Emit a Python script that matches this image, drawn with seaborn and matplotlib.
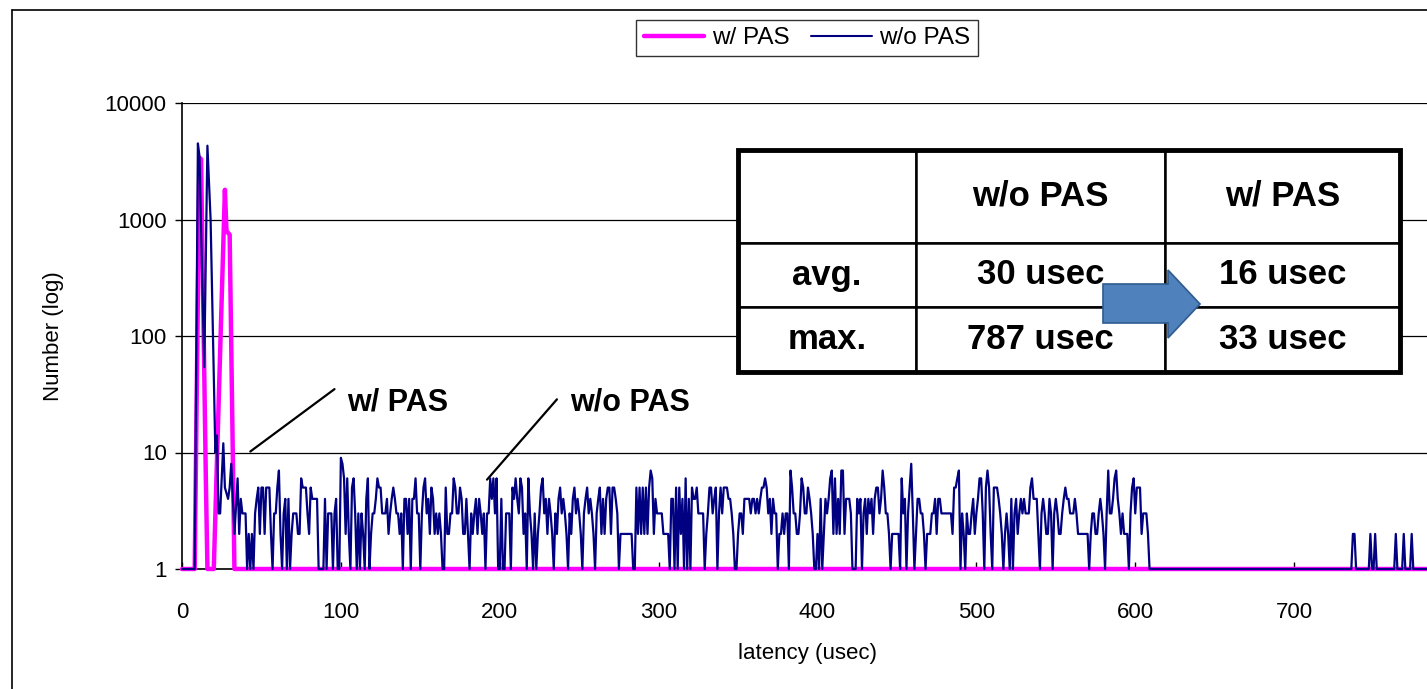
import numpy as np
import pandas as pd
import matplotlib
matplotlib.use("Agg")
import matplotlib.pyplot as plt
import seaborn as sns
from matplotlib.patches import Polygon, Rectangle
from matplotlib.lines import Line2D
from matplotlib.ticker import NullLocator

# ---- data ----
# w/ PAS (magenta): vertices of the two humps, 1 elsewhere
pas_lat = [0, 8, 11, 12, 15, 16, 20, 27, 28, 30, 33, 800]
pas_cnt = [1, 1, 3400, 3300, 6, 1, 1, 1800, 800, 740, 1, 1]

# w/o PAS (navy): peak region
nopas_head_lat = [0, 8, 10, 11, 14, 16, 18, 21, 22, 23, 24, 26, 27, 29, 30, 31, 33, 35, 36, 37, 38, 40]
nopas_head_cnt = [1, 1, 4500, 3500, 54, 4300, 1000, 10, 14, 3, 3, 12, 5, 4, 5, 8, 2, 6, 2, 4, 3, 3]

# w/o PAS noise, one digit per usec starting at 41 usec
noise_start = 41
noise_41_155 = ["1212134525", "5255521335", "7213414123", "3322655532", "5444411114",
                "1333134119", "8626215631", "3132146123", "3465533342", "3454332314",
                "4241446331", "35634"]
noise_156_275 = ["2542323211", "5223365335", "4224213234", "2432313364", "6361141133",
                 "3154643652", "3163213123", "5634243213", "2453432132", "4534321345",
                 "3432134524", "2455255431"]
noise_276_389 = ["2222222211", "5252525257", "6243333222", "2144151524", "1614154453",
                 "3331235534", "5135355544", "3211233244", "4434434345", "5653424331",
                 "2232331753", "3223"]
noise_390_514 = ["6533543211", "2141243467", "2624277244", "4311143413", "4243424553",
                 "4753321222", "2216341358", "3124433212", "2233424433", "3333325567",
                 "1321322342", "3466315752", "15554"]
noise_515_610 = ["3212321413", "4234343335", "6444213432", "2431343223", "4544333432",
                 "2222221233", "2234321373", "3467432322", "2135635552", "333211"]

# w/o PAS tail: isolated counts of 2 up to the 787 usec maximum
nopas_tail_lat = [611, 736, 737, 738, 739, 747, 748, 749, 750, 751, 752, 763, 764, 765,
                  768, 769, 770, 773, 774, 775, 786, 787, 788, 800]
nopas_tail_cnt = [1, 1, 2, 2, 1, 1, 2, 1, 1, 2, 1, 1, 2, 1,
                  1, 2, 1, 1, 2, 1, 1, 2, 1, 1]

table_rows = [["", "w/o PAS", "w/ PAS"],
              ["avg.", "30 usec", "16 usec"],
              ["max.", "787 usec", "33 usec"]]

# ---- build series ----
noise_digits = "".join(noise_41_155 + noise_156_275 + noise_276_389 + noise_390_514 + noise_515_610)
noise_cnt = [int(c) for c in noise_digits]
noise_lat = list(range(noise_start, noise_start + len(noise_cnt)))

df_pas = pd.DataFrame({"latency": pas_lat, "count": pas_cnt})
df_nopas = pd.DataFrame({"latency": nopas_head_lat + noise_lat + nopas_tail_lat,
                         "count": nopas_head_cnt + noise_cnt + nopas_tail_cnt})

sns.set_style("white")
plt.rcParams["font.family"] = ["Liberation Sans", "DejaVu Sans"]
for k in ["text.color", "axes.labelcolor", "xtick.color", "ytick.color"]:
    plt.rcParams[k] = "black"

W, H = 1427, 689
fig = plt.figure(figsize=(W / 100, H / 100), dpi=100)
ax = fig.add_axes([182 / W, 1 - 569 / H, 1271 / W, 466 / H])

sns.lineplot(data=df_pas, x="latency", y="count", color="#FF00FF", lw=3.2,
             estimator=None, sort=False, ax=ax, clip_on=False, zorder=3)
sns.lineplot(data=df_nopas, x="latency", y="count", color="#000080", lw=1.6,
             estimator=None, sort=False, ax=ax, clip_on=False, zorder=4)

ax.set_yscale("log")
ax.set_ylim(1, 10000)
ax.set_xlim(0, 800)
ax.set_yticks([1, 10, 100, 1000, 10000])
ax.set_yticklabels(["1", "10", "100", "1000", "10000"])
ax.yaxis.set_minor_locator(NullLocator())
ax.set_xticks(range(0, 701, 100))
ax.grid(axis="y", color="black", lw=0.9)
ax.set_axisbelow(True)
for s in ["top", "right"]:
    ax.spines[s].set_visible(False)
for s in ["left", "bottom"]:
    ax.spines[s].set_color("black")
    ax.spines[s].set_linewidth(1.2)
ax.tick_params(axis="y", direction="out", length=5, width=1, pad=6, labelsize=16, left=True)
ax.tick_params(axis="x", direction="in", length=5, width=1, pad=24, labelsize=16, bottom=True)

ax.set_xlabel("latency (usec)", fontsize=16)
ax.xaxis.set_label_coords((808 - 182) / 1271, (569 - 643) / 466)
ax.set_ylabel("Number (log)", fontsize=16)
ax.yaxis.set_label_coords((64 - 182) / 1271, 0.5)

# callouts
ax.annotate("", xy=(43, 10.2), xytext=(96, 35),
            arrowprops=dict(arrowstyle="-", lw=1.6, color="black", shrinkA=0, shrinkB=0))
ax.text(104, 27, "w/ PAS", fontsize=22, fontweight="bold", va="center", ha="left")
ax.annotate("", xy=(192, 5.85), xytext=(236, 28.6),
            arrowprops=dict(arrowstyle="-", lw=1.6, color="black", shrinkA=0, shrinkB=0))
ax.text(244, 27, "w/o PAS", fontsize=22, fontweight="bold", va="center", ha="left")

# summary table
tx0, tx1, ty0, ty1 = 738, 1400, 150, 372
tbox = [(tx0 - 182) / 1271, (569 - ty1) / 466, (tx1 - tx0) / 1271, (ty1 - ty0) / 466]
tbl = ax.table(cellText=table_rows, cellLoc="center",
               colWidths=[178 / 662, 249 / 662, 235 / 662], bbox=tbox)
tbl.auto_set_font_size(False)
row_h = [93, 64, 65]
for (r, c), cell in tbl.get_celld().items():
    cell.set_height(row_h[r] / 222)
    cell.set_linewidth(1.8)
    cell.set_edgecolor("black")
    cell.set_facecolor("white")
    cell.get_text().set_fontsize(25)
    cell.get_text().set_fontweight("bold")
    cell.get_text().set_color("black")
tbl.set_zorder(6)
ax.add_patch(Rectangle((tbox[0], tbox[1]), tbox[2], tbox[3], transform=ax.transAxes,
                       fill=False, lw=3.5, edgecolor="black", zorder=7, clip_on=False))

# blue arrow between the two columns
arrow_px = [(1103, 284), (1168, 284), (1168, 270), (1200, 304), (1168, 338), (1168, 323), (1103, 323)]
fig.add_artist(Polygon([(x / W, 1 - y / H) for x, y in arrow_px], closed=True,
                       facecolor="#4F81BD", edgecolor="#2F5B8F", lw=1.2,
                       transform=fig.transFigure, zorder=8))

# legend
handles = [Line2D([], [], color="#FF00FF", lw=3.2), Line2D([], [], color="#000080", lw=1.5)]
fig.legend(handles, ["w/ PAS", "w/o PAS"], loc="center", bbox_to_anchor=(807 / W, 1 - 38 / H),
           ncol=2, frameon=True, fancybox=False, edgecolor="black", fontsize=17.5,
           handlelength=2.5, handletextpad=0.3, columnspacing=0.9, borderpad=0.3)
fig.legends[0].get_frame().set_linewidth(1.0)

# outer chart frame (left and top edges visible)
fig.add_artist(Line2D([12 / W, 12 / W], [0, 1 - 10 / H], color="black", lw=1.2, transform=fig.transFigure))
fig.add_artist(Line2D([12 / W, 1], [1 - 10 / H, 1 - 10 / H], color="black", lw=1.2, transform=fig.transFigure))

fig.savefig("out.png", dpi=100)
